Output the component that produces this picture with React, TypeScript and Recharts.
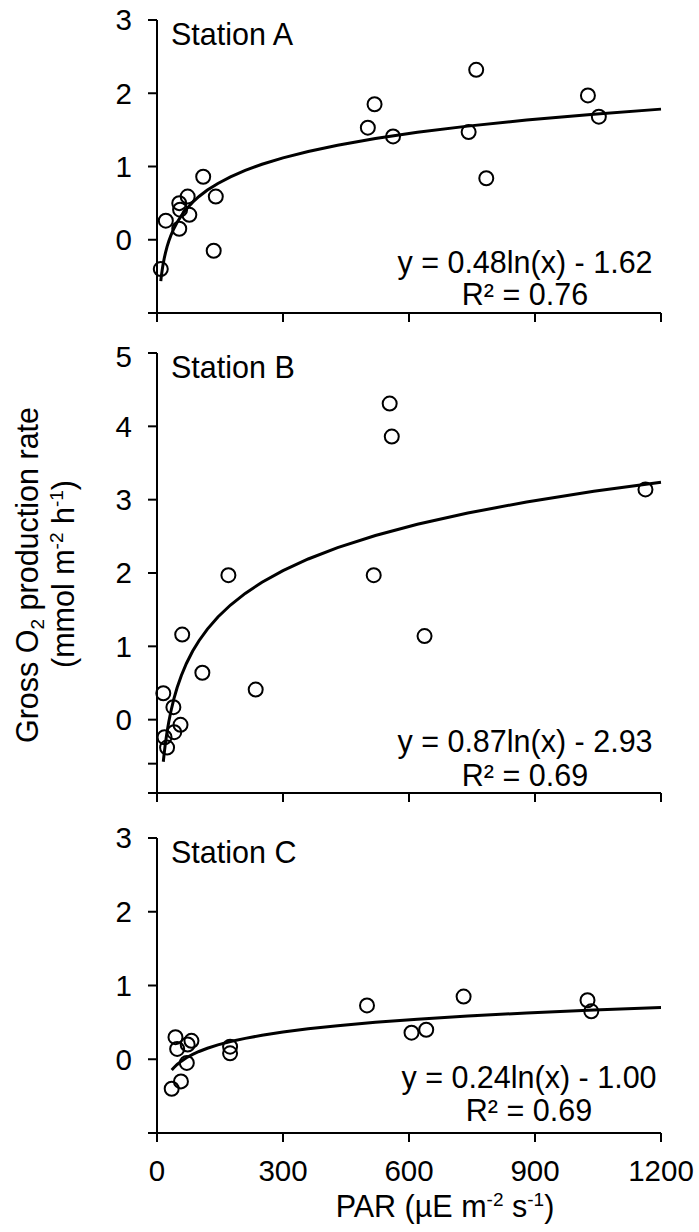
import React from 'react'
import { ScatterChart, Scatter, XAxis, YAxis } from 'recharts'

const FONT = '"Liberation Sans", Arial, sans-serif'

// PAR (x) vs gross O2 production (y)
const parA = [9, 21, 53, 55, 53, 73, 77, 110, 140, 135, 502, 518, 562, 742, 760, 784, 1026, 1052]
const gopA = [-0.4, 0.26, 0.5, 0.41, 0.15, 0.59, 0.34, 0.86, 0.59, -0.15, 1.53, 1.85, 1.41, 1.47, 2.32, 0.84, 1.97, 1.68]

const parB = [15, 18, 24, 39, 41, 56, 60, 108, 170, 235, 516, 554, 559, 637, 1163]
const gopB = [0.36, -0.24, -0.38, 0.17, -0.17, -0.07, 1.16, 0.64, 1.97, 0.41, 1.97, 4.31, 3.86, 1.14, 3.14]

const parC = [35, 44, 48, 57, 71, 73, 82, 174, 174, 500, 606, 641, 730, 1025, 1034]
const gopC = [-0.4, 0.3, 0.14, -0.3, -0.05, 0.2, 0.25, 0.17, 0.08, 0.73, 0.36, 0.4, 0.85, 0.8, 0.65]

// log trendline coefficients printed on each panel: y = a ln(x) + b
const fitA = [0.48, -1.62]
const fitB = [0.87, -2.93]
const fitC = [0.24, -1.0]

const trendGrid = [10, 12, 14, 17, 20, 24, 28, 33, 40, 48, 58, 70, 85, 100, 120, 145, 175, 210, 250, 300, 360, 430, 520, 620, 740, 880, 1040, 1200]

const xTicks = [0, 300, 600, 900, 1200]
const yTicksA = [-1, 0, 1, 2, 3]
const yTicksB = [-1, -0.6, 0, 1, 2, 3, 4, 5]
const yTicksC = [-1, 0, 1, 2, 3]

const toPoints = (xs: number[], ys: number[]) => xs.map((x, i) => ({ x, y: ys[i] }))

const trend = (xs: number[], fit: number[]) => {
  const start = Math.min(...xs)
  return [start, ...trendGrid.filter((x) => x > start)].map((x) => ({ x, y: fit[0] * Math.log(x) + fit[1] }))
}

const Ring = (p: any) =>
  p.cx == null ? <g /> : <circle cx={p.cx} cy={p.cy} r={7} fill="none" stroke="#000" strokeWidth={2} />

const axisStyle = { stroke: '#000', strokeWidth: 2 }
const tickStyle = { fill: '#000', fontSize: 29.5, fontFamily: FONT }

type PanelProps = {
  top: number
  height: number
  marginTop: number
  xAxisHeight: number
  xs: number[]
  ys: number[]
  fit: number[]
  yTicks: number[]
  yMax: number
  showX: boolean
}

function Panel({ top, height, marginTop, xAxisHeight, xs, ys, fit, yTicks, yMax, showX }: PanelProps) {
  return (
    <div style={{ position: 'absolute', left: 0, top, width: 699, height }}>
      <ScatterChart width={699} height={height} margin={{ top: marginTop, right: 38, bottom: 0, left: 0 }}>
        <XAxis
          type="number"
          dataKey="x"
          domain={[0, 1200]}
          ticks={xTicks}
          height={xAxisHeight}
          axisLine={axisStyle}
          tickLine={axisStyle}
          tickSize={9}
          tickMargin={18}
          tick={tickStyle}
          tickFormatter={(v: number) => (showX ? String(v) : '')}
        />
        <YAxis
          type="number"
          dataKey="y"
          domain={[-1, yMax]}
          ticks={yTicks}
          width={157}
          axisLine={axisStyle}
          tickLine={axisStyle}
          tickSize={9}
          tickMargin={16}
          tick={tickStyle}
          tickFormatter={(v: number) => (v < 0 ? '' : String(v))}
        />
        <Scatter
          data={trend(xs, fit)}
          line={{ stroke: '#000', strokeWidth: 3 }}
          shape={() => <g />}
          isAnimationActive={false}
        />
        <Scatter data={toPoints(xs, ys)} shape={Ring} isAnimationActive={false} />
      </ScatterChart>
    </div>
  )
}

export default function App() {
  return (
    <div style={{ position: 'absolute', left: 0, top: 0, width: 699, height: 1232, background: '#fff' }}>
      <Panel top={0} height={340} marginTop={20} xAxisHeight={27} xs={parA} ys={gopA} fit={fitA} yTicks={yTicksA} yMax={3} showX={false} />
      <Panel top={340} height={480} marginTop={13} xAxisHeight={27} xs={parB} ys={gopB} fit={fitB} yTicks={yTicksB} yMax={5} showX={false} />
      <Panel top={820} height={412} marginTop={18} xAxisHeight={99} xs={parC} ys={gopC} fit={fitC} yTicks={yTicksC} yMax={3} showX={true} />

      <svg
        width={699}
        height={1232}
        style={{ position: 'absolute', left: 0, top: 0, pointerEvents: 'none' }}
        fontFamily={FONT}
        fontSize={30.5}
        fill="#000"
      >
        <text x={171} y={45}>Station A</text>
        <text x={171} y={378}>Station B</text>
        <text x={171} y={863}>Station C</text>

        <text x={525} y={273} textAnchor="middle">y = 0.48ln(x) - 1.62</text>
        <text x={525} y={305} textAnchor="middle">R² = 0.76</text>
        <text x={525} y={752} textAnchor="middle">y = 0.87ln(x) - 2.93</text>
        <text x={525} y={786} textAnchor="middle">R² = 0.69</text>
        <text x={529} y={1088} textAnchor="middle">y = 0.24ln(x) - 1.00</text>
        <text x={529} y={1121} textAnchor="middle">R² = 0.69</text>

        <text x={445} y={1217} textAnchor="middle">
          <tspan>PAR (µE m</tspan>
          <tspan fontSize={19} dy={-11}>-2</tspan>
          <tspan dy={11}> s</tspan>
          <tspan fontSize={19} dy={-11}>-1</tspan>
          <tspan dy={11}>)</tspan>
        </text>

        <text transform="rotate(-90)" x={-575} y={38} textAnchor="middle">
          <tspan>Gross O</tspan>
          <tspan fontSize={19} dy={6}>2</tspan>
          <tspan dy={-6}> production rate</tspan>
        </text>
        <text transform="rotate(-90)" x={-574} y={74} textAnchor="middle">
          <tspan>(mmol m</tspan>
          <tspan fontSize={19} dy={-11}>-2</tspan>
          <tspan dy={11}> h</tspan>
          <tspan fontSize={19} dy={-11}>-1</tspan>
          <tspan dy={11}>)</tspan>
        </text>
      </svg>
    </div>
  )
}
